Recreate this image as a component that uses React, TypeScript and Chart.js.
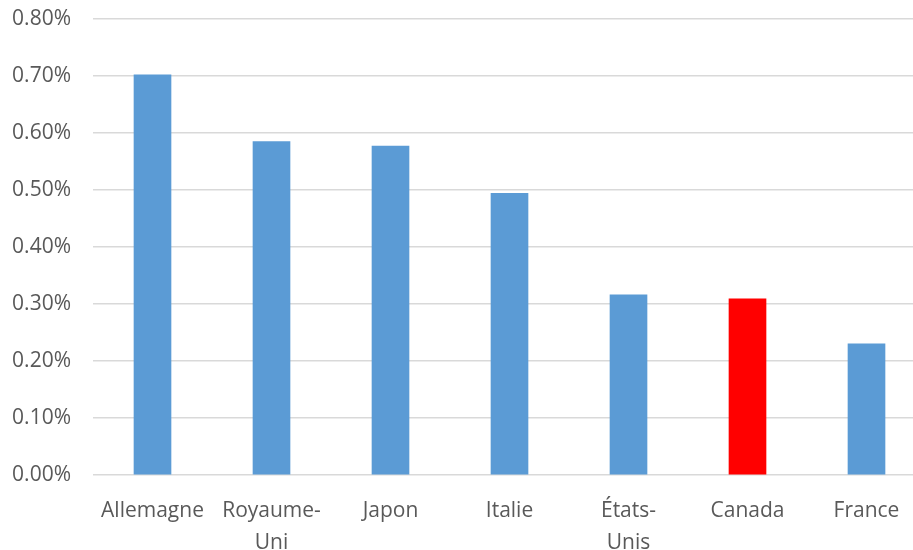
import React, { useEffect, useRef } from "react";
import { Chart, registerables } from "chart.js";

Chart.register(...registerables);

// Country categories (multi-line where the label wraps)
const countries: (string | string[])[] = [
  "Allemagne",
  ["Royaume-", "Uni"],
  "Japon",
  "Italie",
  ["États-", "Unis"],
  "Canada",
  "France",
];

// Values in percent
const values: number[] = [0.702, 0.585, 0.577, 0.494, 0.316, 0.309, 0.23];

// Bar colours: Canada highlighted
const barColors: string[] = [
  "#5b9bd5",
  "#5b9bd5",
  "#5b9bd5",
  "#5b9bd5",
  "#5b9bd5",
  "#ff0000",
  "#5b9bd5",
];

const PLOT_LEFT = 93;
const PLOT_TOP = 19;
const X_AXIS_HEIGHT = 75;

export default function App() {
  const canvasRef = useRef<HTMLCanvasElement | null>(null);

  useEffect(() => {
    document.body.style.margin = "0";
    document.body.style.overflow = "hidden";
    const canvas = canvasRef.current;
    if (!canvas) return;
    const chart = new Chart(canvas, {
      type: "bar",
      data: {
        labels: countries,
        datasets: [
          {
            data: values,
            backgroundColor: barColors,
            barThickness: 37,
            borderWidth: 0,
          },
        ],
      },
      options: {
        responsive: false,
        animation: false,
        maintainAspectRatio: false,
        layout: { padding: { top: PLOT_TOP, right: 0, bottom: 0, left: 0 } },
        plugins: {
          legend: { display: false },
          tooltip: { enabled: false },
        },
        scales: {
          x: {
            grid: { display: false },
            border: { display: false },
            ticks: {
              color: "#595959",
              font: { family: "Open Sans", size: 21, lineHeight: 1.52 },
              maxRotation: 0,
              autoSkip: false,
              padding: 12,
            },
            afterFit: (scale: any) => {
              scale.height = X_AXIS_HEIGHT;
              scale.paddingLeft = 0;
              scale.paddingRight = 0;
            },
          },
          y: {
            min: 0,
            max: 0.8,
            ticks: {
              stepSize: 0.1,
              color: "#595959",
              font: { family: "Open Sans", size: 21 },
              padding: 22,
              callback: (v: any) => Number(v).toFixed(2) + "%",
            },
            grid: { color: "#d9d9d9", lineWidth: 1.5, drawTicks: false },
            border: { display: false },
            afterFit: (scale: any) => {
              scale.width = PLOT_LEFT;
              scale.paddingTop = 0;
              scale.paddingBottom = 0;
            },
          },
        },
      },
    });
    return () => chart.destroy();
  }, []);

  return (
    <div style={{ width: 913, height: 550, overflow: "hidden", background: "#fff" }}>
      <canvas ref={canvasRef} width={926} height={550} style={{ display: "block" }} />
    </div>
  );
}
